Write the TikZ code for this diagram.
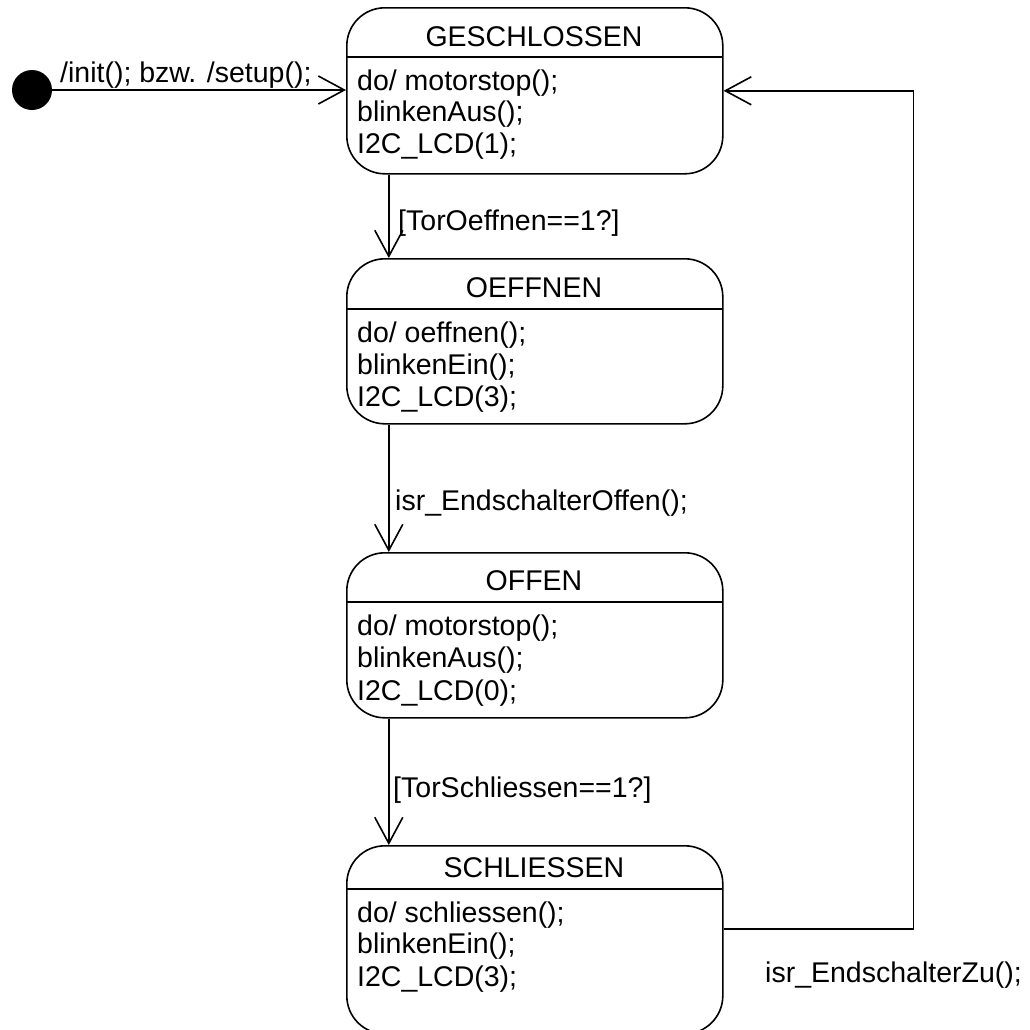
\documentclass[tikz,border=0pt]{standalone}
\usepackage{fontspec}
\setmainfont{Liberation Sans}
\usetikzlibrary{arrows.meta}
\begin{document}
\begin{tikzpicture}[x=1pt,y=-1pt,
  statebox/.style={draw, line width=1.6pt, rounded corners=38pt, minimum width=376pt, inner sep=0pt, anchor=north west},
  sepline/.style={line width=1.6pt},
  txt/.style={font=\fontsize{28.5}{32}\selectfont, inner sep=0pt, anchor=base west},
  ttl/.style={font=\fontsize{28.5}{32}\selectfont, inner sep=0pt, anchor=base},
  trans/.style={line width=1.6pt, -{Straight Barb[length=26pt,width=28pt,line width=1.6pt]}}]
\useasboundingbox[fill=white] (0,0) rectangle (1030,1029);

% initial state
\node[circle, fill=black, minimum size=40pt, inner sep=0pt] (init) at (32,90) {};

% GESCHLOSSEN
\node[statebox, minimum height=166pt] (g) at (346,7) {};
\draw[sepline] (346,57) -- (722,57);
\node[ttl] (gt) at (534,46) {GESCHLOSSEN};
\node[txt] (g1) at (357,90) {do/ motorstop();};
\node[txt] (g2) at (357,121) {blinkenAus();};
\node[txt] (g3) at (357,153) {I2C\_LCD(1);};

% OEFFNEN
\node[statebox, minimum height=165pt] (oe) at (346,258) {};
\draw[sepline] (346,309) -- (722,309);
\node[ttl] (oet) at (534,297) {OEFFNEN};
\node[txt] (oe1) at (357,342) {do/ oeffnen();};
\node[txt] (oe2) at (357,374) {blinkenEin();};
\node[txt] (oe3) at (357,406) {I2C\_LCD(3);};

% OFFEN
\node[statebox, minimum height=165pt] (of) at (346,552) {};
\draw[sepline] (346,602) -- (722,602);
\node[ttl] (oft) at (534,590) {OFFEN};
\node[txt] (of1) at (357,635) {do/ motorstop();};
\node[txt] (of2) at (357,667) {blinkenAus();};
\node[txt] (of3) at (357,700) {I2C\_LCD(0);};

% SCHLIESSEN
\node[statebox, minimum height=188pt] (s) at (346,845) {};
\draw[sepline] (346,889) -- (722,889);
\node[ttl] (st) at (534,877) {SCHLIESSEN};
\node[txt] (s1) at (357,922) {do/ schliessen();};
\node[txt] (s2) at (357,953) {blinkenEin();};
\node[txt] (s3) at (357,986) {I2C\_LCD(3);};

% transitions
\draw[trans] (init.east) -- (init.east -| g.west);
\node[txt] (l0) at (60,82) {/init(); bzw. /setup();};

\draw[trans] ([xshift=-146pt]g.south) -- ([xshift=-146pt]oe.north);
\node[txt] (l1) at (398,230) {[TorOeffnen==1?]};

\draw[trans] ([xshift=-146pt]oe.south) -- ([xshift=-146pt]of.north);
\node[txt] (l2) at (395,510) {isr\_EndschalterOffen();};

\draw[trans] ([xshift=-146pt]of.south) -- ([xshift=-146pt]s.north);
\node[txt] (l3) at (393,797) {[TorSchliessen==1?]};

\draw[trans] ([yshift=11pt]s.east) -- ++(190,0) |- (g.east);
\node[txt] (l4) at (765,982) {isr\_EndschalterZu();};
\end{tikzpicture}
\end{document}
